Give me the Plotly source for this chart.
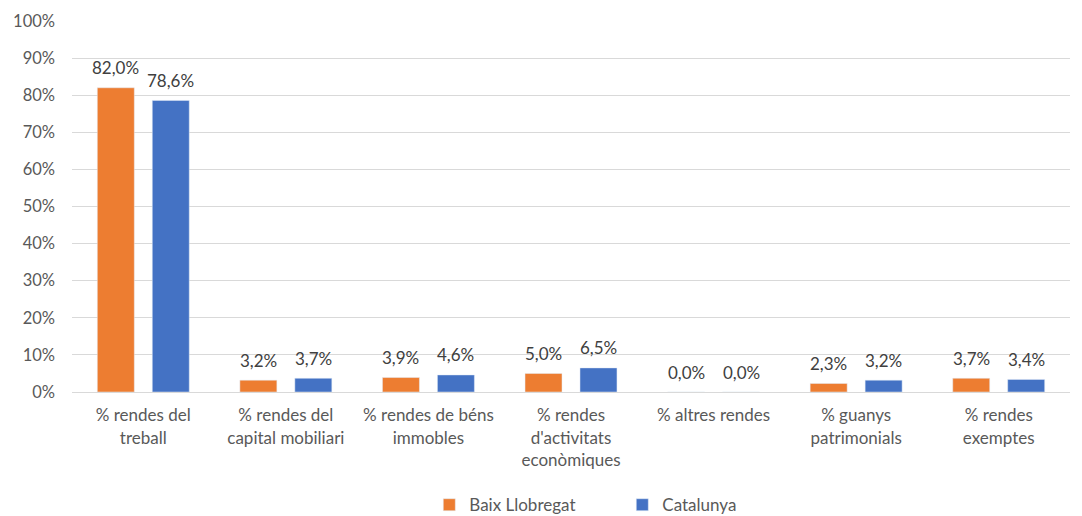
import plotly.graph_objects as go

categories = ["% rendes del<br>treball", "% rendes del<br>capital mobiliari", "% rendes de béns<br>immobles",
              "% rendes<br>d'activitats<br>econòmiques", "% altres rendes", "% guanys<br>patrimonials",
              "% rendes<br>exemptes"]
baix = [82.0, 3.2, 3.9, 5.0, 0.0, 2.3, 3.7]
cat = [78.6, 3.7, 4.6, 6.5, 0.0, 3.2, 3.4]
y_ticks = list(range(0, 101, 10))
y_tick_text = [f"{v}%" for v in y_ticks]

def fmt(v):
    return f"{v:.1f}%".replace(".", ",")

font = "Lato, 'Open Sans', sans-serif"
fs = 16.5
fig = go.Figure()
fig.add_trace(go.Bar(name="Baix Llobregat", x=categories, y=baix, marker_color="#ED7D31"))
fig.add_trace(go.Bar(name="Catalunya", x=categories, y=cat, marker_color="#4472C4"))

slot_shift = 27.5
for vals, shift in ((baix, -slot_shift), (cat, slot_shift)):
    for c, v in zip(categories, vals):
        fig.add_annotation(x=c, y=v, text=fmt(v), showarrow=False, xshift=shift, yshift=20,
                           yanchor="middle", font=dict(color="#404040", size=17, family=font))

fig.update_layout(
    width=1074, height=508, barmode="group", bargap=0.229, bargroupgap=0.327,
    paper_bgcolor="white", plot_bgcolor="white",
    margin=dict(l=64, r=12, t=13, b=124, autoexpand=False),
    font=dict(family=font, size=fs, color="#595959"),
    legend=dict(orientation="h", x=0.358, xanchor="left", y=-0.305, yanchor="middle",
                font=dict(size=17, color="#595959"), traceorder="normal",
                entrywidth=148, entrywidthmode="pixels"),
    xaxis=dict(showline=True, linecolor="#d9d9d9", linewidth=1, tickfont=dict(size=17, color="#595959"),
               ticks="", automargin=False, ticklabelstandoff=8),
    yaxis=dict(range=[0, 100], tickvals=y_ticks, ticktext=y_tick_text, gridcolor="#d9d9d9",
               zeroline=False, tickfont=dict(size=fs, color="#595959"), automargin=False,
               ticklabelstandoff=16),
)
fig.write_html("out.html")
